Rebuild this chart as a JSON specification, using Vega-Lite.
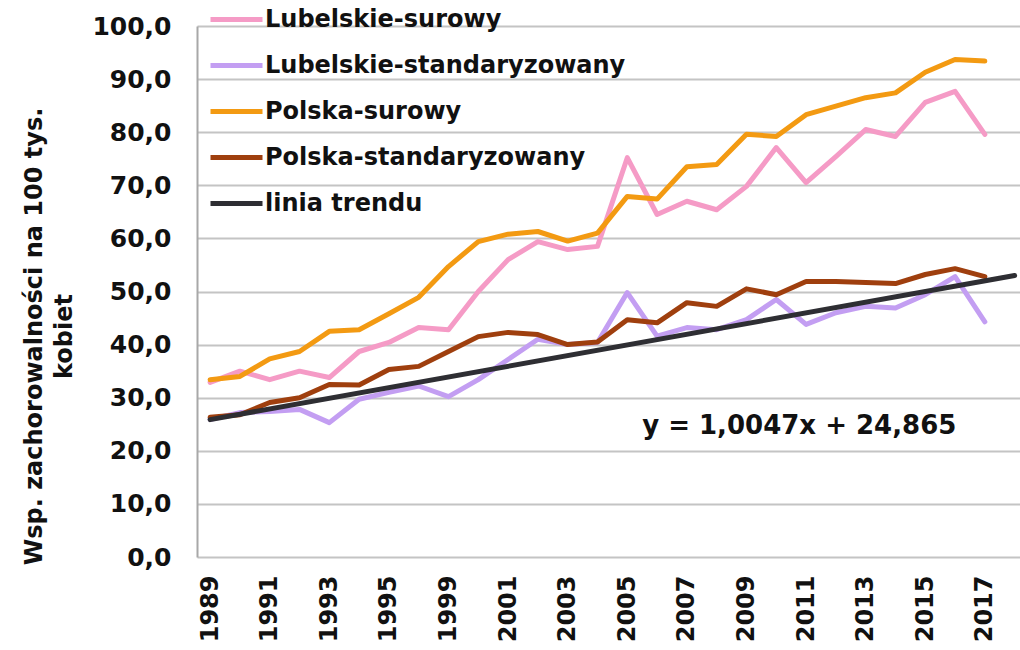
{
  "$schema": "https://vega.github.io/schema/vega-lite/v6.json",
  "width": 823,
  "height": 531,
  "autosize": {"type": "none"},
  "padding": {"left": 197, "top": 26, "right": 0, "bottom": 93},
  "background": "white",
  "config": {
    "font": "DejaVu Sans",
    "view": {"stroke": null},
    "axis": {"labelFont": "DejaVu Sans", "titleFont": "DejaVu Sans"}
  },
  "datasets": {
    "series": [
      {"rok": "1989", "seria": "Lubelskie-surowy", "v": 32.9},
      {"rok": "1990", "seria": "Lubelskie-surowy", "v": 35.0},
      {"rok": "1991", "seria": "Lubelskie-surowy", "v": 33.4},
      {"rok": "1992", "seria": "Lubelskie-surowy", "v": 35.0},
      {"rok": "1993", "seria": "Lubelskie-surowy", "v": 33.8},
      {"rok": "1994", "seria": "Lubelskie-surowy", "v": 38.7},
      {"rok": "1995", "seria": "Lubelskie-surowy", "v": 40.4},
      {"rok": "1997", "seria": "Lubelskie-surowy", "v": 43.2},
      {"rok": "1999", "seria": "Lubelskie-surowy", "v": 42.8},
      {"rok": "2000", "seria": "Lubelskie-surowy", "v": 50.0},
      {"rok": "2001", "seria": "Lubelskie-surowy", "v": 56.0},
      {"rok": "2002", "seria": "Lubelskie-surowy", "v": 59.4},
      {"rok": "2003", "seria": "Lubelskie-surowy", "v": 57.9},
      {"rok": "2004", "seria": "Lubelskie-surowy", "v": 58.5},
      {"rok": "2005", "seria": "Lubelskie-surowy", "v": 75.2},
      {"rok": "2006", "seria": "Lubelskie-surowy", "v": 64.5},
      {"rok": "2007", "seria": "Lubelskie-surowy", "v": 67.0},
      {"rok": "2008", "seria": "Lubelskie-surowy", "v": 65.4},
      {"rok": "2009", "seria": "Lubelskie-surowy", "v": 69.8},
      {"rok": "2010", "seria": "Lubelskie-surowy", "v": 77.1},
      {"rok": "2011", "seria": "Lubelskie-surowy", "v": 70.5},
      {"rok": "2012", "seria": "Lubelskie-surowy", "v": 75.4},
      {"rok": "2013", "seria": "Lubelskie-surowy", "v": 80.5},
      {"rok": "2014", "seria": "Lubelskie-surowy", "v": 79.2},
      {"rok": "2015", "seria": "Lubelskie-surowy", "v": 85.6},
      {"rok": "2016", "seria": "Lubelskie-surowy", "v": 87.7},
      {"rok": "2017", "seria": "Lubelskie-surowy", "v": 79.6},

      {"rok": "1989", "seria": "Lubelskie-standaryzowany", "v": 25.9},
      {"rok": "1990", "seria": "Lubelskie-standaryzowany", "v": 27.2},
      {"rok": "1991", "seria": "Lubelskie-standaryzowany", "v": 27.4},
      {"rok": "1992", "seria": "Lubelskie-standaryzowany", "v": 27.8},
      {"rok": "1993", "seria": "Lubelskie-standaryzowany", "v": 25.3},
      {"rok": "1994", "seria": "Lubelskie-standaryzowany", "v": 29.7},
      {"rok": "1995", "seria": "Lubelskie-standaryzowany", "v": 31.0},
      {"rok": "1997", "seria": "Lubelskie-standaryzowany", "v": 32.2},
      {"rok": "1999", "seria": "Lubelskie-standaryzowany", "v": 30.2},
      {"rok": "2000", "seria": "Lubelskie-standaryzowany", "v": 33.4},
      {"rok": "2001", "seria": "Lubelskie-standaryzowany", "v": 37.2},
      {"rok": "2002", "seria": "Lubelskie-standaryzowany", "v": 41.0},
      {"rok": "2003", "seria": "Lubelskie-standaryzowany", "v": 40.0},
      {"rok": "2004", "seria": "Lubelskie-standaryzowany", "v": 40.4},
      {"rok": "2005", "seria": "Lubelskie-standaryzowany", "v": 49.8},
      {"rok": "2006", "seria": "Lubelskie-standaryzowany", "v": 41.6},
      {"rok": "2007", "seria": "Lubelskie-standaryzowany", "v": 43.2},
      {"rok": "2008", "seria": "Lubelskie-standaryzowany", "v": 42.8},
      {"rok": "2009", "seria": "Lubelskie-standaryzowany", "v": 44.7},
      {"rok": "2010", "seria": "Lubelskie-standaryzowany", "v": 48.5},
      {"rok": "2011", "seria": "Lubelskie-standaryzowany", "v": 43.8},
      {"rok": "2012", "seria": "Lubelskie-standaryzowany", "v": 46.0},
      {"rok": "2013", "seria": "Lubelskie-standaryzowany", "v": 47.2},
      {"rok": "2014", "seria": "Lubelskie-standaryzowany", "v": 46.9},
      {"rok": "2015", "seria": "Lubelskie-standaryzowany", "v": 49.4},
      {"rok": "2016", "seria": "Lubelskie-standaryzowany", "v": 52.8},
      {"rok": "2017", "seria": "Lubelskie-standaryzowany", "v": 44.3},

      {"rok": "1989", "seria": "Polska-surowy", "v": 33.4},
      {"rok": "1990", "seria": "Polska-surowy", "v": 34.0},
      {"rok": "1991", "seria": "Polska-surowy", "v": 37.3},
      {"rok": "1992", "seria": "Polska-surowy", "v": 38.7},
      {"rok": "1993", "seria": "Polska-surowy", "v": 42.5},
      {"rok": "1994", "seria": "Polska-surowy", "v": 42.8},
      {"rok": "1995", "seria": "Polska-surowy", "v": 45.8},
      {"rok": "1997", "seria": "Polska-surowy", "v": 48.9},
      {"rok": "1999", "seria": "Polska-surowy", "v": 54.7},
      {"rok": "2000", "seria": "Polska-surowy", "v": 59.4},
      {"rok": "2001", "seria": "Polska-surowy", "v": 60.8},
      {"rok": "2002", "seria": "Polska-surowy", "v": 61.3},
      {"rok": "2003", "seria": "Polska-surowy", "v": 59.5},
      {"rok": "2004", "seria": "Polska-surowy", "v": 61.0},
      {"rok": "2005", "seria": "Polska-surowy", "v": 67.9},
      {"rok": "2006", "seria": "Polska-surowy", "v": 67.4},
      {"rok": "2007", "seria": "Polska-surowy", "v": 73.5},
      {"rok": "2008", "seria": "Polska-surowy", "v": 73.9},
      {"rok": "2009", "seria": "Polska-surowy", "v": 79.6},
      {"rok": "2010", "seria": "Polska-surowy", "v": 79.2},
      {"rok": "2011", "seria": "Polska-surowy", "v": 83.3},
      {"rok": "2012", "seria": "Polska-surowy", "v": 84.9},
      {"rok": "2013", "seria": "Polska-surowy", "v": 86.5},
      {"rok": "2014", "seria": "Polska-surowy", "v": 87.4},
      {"rok": "2015", "seria": "Polska-surowy", "v": 91.3},
      {"rok": "2016", "seria": "Polska-surowy", "v": 93.7},
      {"rok": "2017", "seria": "Polska-surowy", "v": 93.4},

      {"rok": "1989", "seria": "Polska-standaryzowany", "v": 26.3},
      {"rok": "1990", "seria": "Polska-standaryzowany", "v": 26.8},
      {"rok": "1991", "seria": "Polska-standaryzowany", "v": 29.1},
      {"rok": "1992", "seria": "Polska-standaryzowany", "v": 30.0},
      {"rok": "1993", "seria": "Polska-standaryzowany", "v": 32.5},
      {"rok": "1994", "seria": "Polska-standaryzowany", "v": 32.4},
      {"rok": "1995", "seria": "Polska-standaryzowany", "v": 35.3},
      {"rok": "1997", "seria": "Polska-standaryzowany", "v": 35.9},
      {"rok": "1999", "seria": "Polska-standaryzowany", "v": 38.7},
      {"rok": "2000", "seria": "Polska-standaryzowany", "v": 41.5},
      {"rok": "2001", "seria": "Polska-standaryzowany", "v": 42.3},
      {"rok": "2002", "seria": "Polska-standaryzowany", "v": 41.9},
      {"rok": "2003", "seria": "Polska-standaryzowany", "v": 40.0},
      {"rok": "2004", "seria": "Polska-standaryzowany", "v": 40.5},
      {"rok": "2005", "seria": "Polska-standaryzowany", "v": 44.7},
      {"rok": "2006", "seria": "Polska-standaryzowany", "v": 44.1},
      {"rok": "2007", "seria": "Polska-standaryzowany", "v": 47.9},
      {"rok": "2008", "seria": "Polska-standaryzowany", "v": 47.2},
      {"rok": "2009", "seria": "Polska-standaryzowany", "v": 50.5},
      {"rok": "2010", "seria": "Polska-standaryzowany", "v": 49.4},
      {"rok": "2011", "seria": "Polska-standaryzowany", "v": 51.9},
      {"rok": "2012", "seria": "Polska-standaryzowany", "v": 51.9},
      {"rok": "2013", "seria": "Polska-standaryzowany", "v": 51.7},
      {"rok": "2014", "seria": "Polska-standaryzowany", "v": 51.5},
      {"rok": "2015", "seria": "Polska-standaryzowany", "v": 53.2},
      {"rok": "2016", "seria": "Polska-standaryzowany", "v": 54.3},
      {"rok": "2017", "seria": "Polska-standaryzowany", "v": 52.8},

      {"rok": "1989", "seria": "linia trendu", "v": 25.87},
      {"rok": "2018", "seria": "linia trendu", "v": 53.0}
    ],
    "label": [
      {"rok": "2010", "v": 24.6, "tekst": "y = 1,0047x  + 24,865"}
    ]
  },
  "layer": [
    {
      "data": {"name": "series"},
      "mark": {"type": "line", "strokeCap": "round", "strokeJoin": "round"},
      "encoding": {
        "x": {
          "field": "rok",
          "type": "ordinal",
          "scale": {
            "type": "point",
            "domain": ["1989","1990","1991","1992","1993","1994","1995","1997","1999","2000","2001","2002","2003","2004","2005","2006","2007","2008","2009","2010","2011","2012","2013","2014","2015","2016","2017","2018"],
            "padding": 0.31,
            "align": 0.71
          },
          "axis": {
            "title": null,
            "values": ["1989","1991","1993","1995","1999","2001","2003","2005","2007","2009","2011","2013","2015","2017"],
            "labelAngle": -90,
            "labelAlign": "right",
            "labelBaseline": "middle",
            "labelFontSize": 24,
            "labelFontWeight": "bold",
            "labelColor": "#111111",
            "labelPadding": 18,
            "ticks": false,
            "domain": false,
            "grid": false
          }
        },
        "y": {
          "field": "v",
          "type": "quantitative",
          "scale": {"domain": [0, 100], "nice": false, "zero": true},
          "axis": {
            "values": [0,10,20,30,40,50,60,70,80,90,100],
            "labelExpr": "replace(format(datum.value, '.1f'), '.', ',')",
            "labelFontSize": 25,
            "labelFontWeight": "bold",
            "labelColor": "#111111",
            "labelPadding": 26,
            "ticks": false,
            "domain": true,
            "domainColor": "#A8A8A8",
            "domainWidth": 2,
            "grid": true,
            "gridColor": "#C4C4C4",
            "gridWidth": 2,
            "title": ["Wsp. zachorowalności na 100 tys.", "kobiet"],
            "titleFontSize": 24,
            "titleFontWeight": "bold",
            "titleColor": "#111111",
            "titleAngle": -90,
            "titleAlign": "center",
            "titleBaseline": "middle",
            "titleLineHeight": 30,
            "titleX": -163,
            "titleY": 310
          }
        },
        "color": {
          "field": "seria",
          "type": "nominal",
          "scale": {
            "domain": ["Lubelskie-surowy","Lubelskie-standaryzowany","Polska-surowy","Polska-standaryzowany","linia trendu"],
            "range": ["#F59BC6","#C39EF2","#F39A12","#9F3F0E","#2E2E33"]
          },
          "legend": {
            "title": null,
            "orient": "none",
            "legendX": 11,
            "legendY": -35,
            "direction": "vertical",
            "symbolType": "stroke",
            "symbolSize": 2704,
            "labelFontSize": 24,
            "labelFontWeight": "bold",
            "labelColor": "#111111",
            "labelOffset": 0,
            "labelLimit": 0,
            "rowPadding": 5,
            "padding": 0
          }
        },
        "strokeWidth": {
          "field": "seria",
          "type": "nominal",
          "scale": {
            "domain": ["Lubelskie-surowy","Lubelskie-standaryzowany","Polska-surowy","Polska-standaryzowany","linia trendu"],
            "range": [5, 5, 7, 8, 2.5]
          },
          "legend": {
            "title": null,
            "orient": "none",
            "legendX": 11,
            "legendY": -35,
            "direction": "vertical",
            "symbolType": "stroke",
            "symbolSize": 2704,
            "labelFontSize": 24,
            "labelFontWeight": "bold",
            "labelColor": "#111111",
            "labelOffset": 0,
            "labelLimit": 0,
            "rowPadding": 5,
            "padding": 0
          }
        },
        "order": {"field": "rok"}
      }
    },
    {
      "data": {"name": "label"},
      "mark": {"type": "text", "fontSize": 26, "fontWeight": "bold", "color": "#111111", "align": "center", "baseline": "middle", "dx": 23},
      "encoding": {
        "x": {"field": "rok", "type": "ordinal"},
        "y": {"field": "v", "type": "quantitative"},
        "text": {"field": "tekst"}
      }
    }
  ]
}
